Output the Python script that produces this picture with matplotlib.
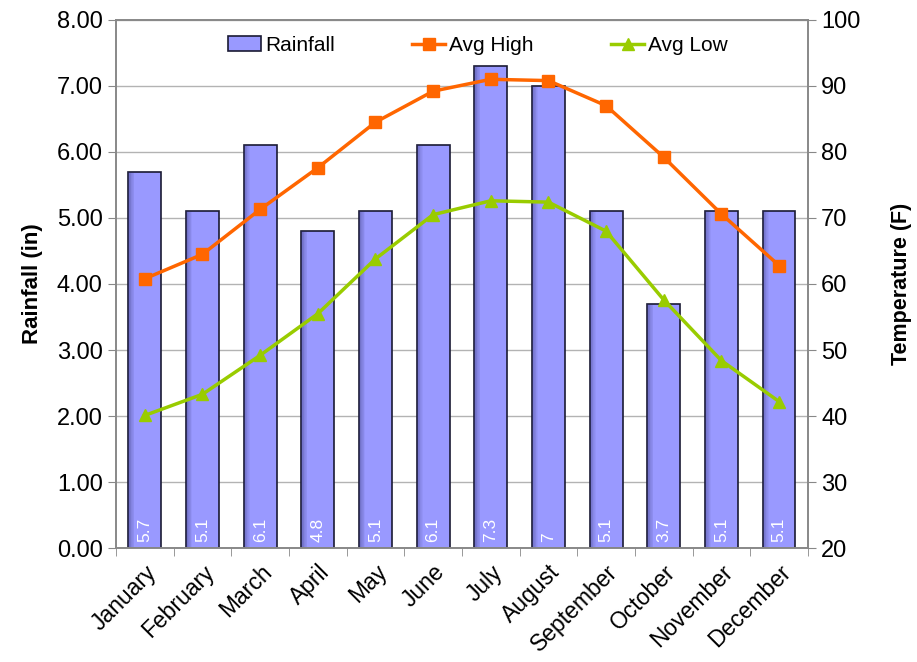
import numpy as np
import matplotlib.pyplot as plt
from matplotlib.patches import Rectangle

plt.rcParams['font.family'] = ['Liberation Sans', 'DejaVu Sans']

months = ['January', 'February', 'March', 'April', 'May', 'June',
          'July', 'August', 'September', 'October', 'November', 'December']
rainfall = [5.7, 5.1, 6.1, 4.8, 5.1, 6.1, 7.3, 7, 5.1, 3.7, 5.1, 5.1]
avg_high = [60.8, 64.5, 71.3, 77.6, 84.5, 89.2, 91.0, 90.8, 87.0, 79.2, 70.6, 62.8]
avg_low = [40.1, 43.3, 49.2, 55.5, 63.8, 70.5, 72.6, 72.4, 68.0, 57.6, 48.4, 42.2]

bar_color = '#9999ff'
high_color = '#ff6600'
low_color = '#99cc00'

fig = plt.figure(figsize=(9.17, 6.62), dpi=100)
ax = fig.add_axes([0.1265, 0.172, 0.7545, 0.798])
ax2 = ax.twinx()

x = np.arange(len(months))
width = 0.57
bars = ax.bar(x, rainfall, width, color=bar_color, edgecolor='#1a1a33',
              linewidth=1.2, zorder=2, label='Rainfall')

# darker strip along the left of each bar for the bevelled look
for b in bars:
    x0, h = b.get_x(), b.get_height()
    steps = 8
    for i in range(steps):
        ax.add_patch(Rectangle((x0 + i * 0.013, 0), 0.013, h,
                               color='#2b2b66', alpha=0.4 * (1 - i / steps),
                               lw=0, zorder=2.1))

for xi, v in zip(x, rainfall):
    ax.text(xi, 0.1, f'{v:g}', rotation=90, ha='center', va='bottom',
            color='white', fontsize=12.5, zorder=3)

ax.set_ylim(0, 8)
ax.set_yticks(np.arange(0, 8.01, 1))
ax.set_yticklabels([f'{v:.2f}' for v in np.arange(0, 8.01, 1)])
ax.set_xlim(-0.5, len(months) - 0.5)
ax.set_xticks(x)
ax.set_xticklabels(months, rotation=45, ha='right', rotation_mode='anchor')
ax.set_xticks(np.arange(-0.5, len(months), 1), minor=True)
ax.tick_params(axis='x', which='major', length=0, labelsize=16.5, pad=9)
ax.tick_params(axis='x', which='minor', length=6, color='#888888')
ax.tick_params(axis='y', labelsize=17, length=6, color='#888888')
ax.yaxis.grid(True, color='#b3b3b3', linewidth=1)
ax.set_axisbelow(True)
ax.set_ylabel('Rainfall (in)', fontsize=16, fontweight='bold', labelpad=10)

ax2.plot(x, avg_high, color=high_color, marker='s', markersize=8,
         linewidth=2.5, label='Avg High', zorder=4)
ax2.plot(x, avg_low, color=low_color, marker='^', markersize=8,
         linewidth=2.5, label='Avg Low', zorder=4)
ax2.set_ylim(20, 100)
ax2.set_yticks(np.arange(20, 101, 10))
ax2.tick_params(axis='y', labelsize=17, length=6, color='#888888')
ax2.set_ylabel('Temperature (F)', fontsize=15.5, fontweight='bold', labelpad=22)

for a in (ax, ax2):
    for s in a.spines.values():
        s.set_color('#888888')
        s.set_linewidth(1.2)

handles = [bars] + ax2.get_lines()
labels = ['Rainfall', 'Avg High', 'Avg Low']
ax2.legend(handles, labels, loc='upper center', ncol=3, frameon=False,
           fontsize=15, bbox_to_anchor=(0.523, 1.005), columnspacing=3.7,
           handlelength=1.6, handletextpad=0.2)

fig.savefig('out.png', dpi=100)
